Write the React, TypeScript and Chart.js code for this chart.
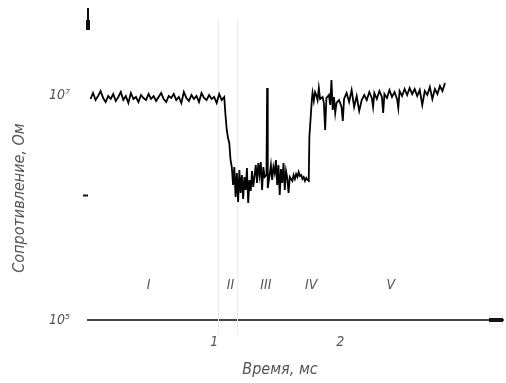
import { useEffect, useRef } from "react";
import { Chart, registerables } from "chart.js";

Chart.register(...registerables);

// Time, ms
const timeMs = [
  0.02, 0.04, 0.06, 0.08, 0.10, 0.12, 0.14, 0.16, 0.18, 0.20,
  0.22, 0.24, 0.26, 0.28, 0.30, 0.32, 0.34, 0.36, 0.38, 0.40,
  0.42, 0.44, 0.46, 0.48, 0.50, 0.52, 0.54, 0.56, 0.58, 0.60,
  0.62, 0.64, 0.66, 0.68, 0.70, 0.72, 0.74, 0.76, 0.78, 0.80,
  0.82, 0.84, 0.86, 0.88, 0.90, 0.92, 0.94, 0.96, 0.98, 1.00,
  1.02, 1.04, 1.06, 1.08,
  1.09, 1.10, 1.11, 1.12, 1.13, 1.14,
  1.15, 1.16, 1.17, 1.18, 1.19, 1.20, 1.21, 1.22, 1.23, 1.24,
  1.25, 1.26, 1.27, 1.28, 1.29, 1.30, 1.31,
  1.33, 1.34, 1.35, 1.36, 1.37, 1.38, 1.39, 1.40,
  1.415, 1.42, 1.425,
  1.44, 1.45, 1.46, 1.47, 1.48, 1.49, 1.50, 1.51, 1.52, 1.53,
  1.54, 1.55, 1.56, 1.57, 1.58, 1.59, 1.60,
  1.62, 1.63, 1.64, 1.65, 1.66, 1.67, 1.68, 1.69, 1.70, 1.71,
  1.72, 1.73, 1.74, 1.75, 1.755, 1.775,
  1.78, 1.79, 1.80, 1.81, 1.82, 1.83, 1.84,
  1.86, 1.87, 1.88, 1.89,
  1.91, 1.92, 1.93, 1.94, 1.95, 1.96, 1.97,
  1.99, 2.01, 2.02, 2.03,
  2.05, 2.07, 2.09, 2.11, 2.13, 2.15, 2.17,
  2.19, 2.21, 2.23, 2.25, 2.26, 2.27, 2.29, 2.31, 2.33, 2.34,
  2.35, 2.37, 2.39, 2.41, 2.43, 2.45, 2.46, 2.47, 2.49, 2.51,
  2.53, 2.55, 2.57, 2.59, 2.61, 2.63, 2.65, 2.67, 2.69, 2.71,
  2.73, 2.75, 2.77, 2.79, 2.81, 2.83,
];

// Resistance, lg(Ohm)
const lgResistance = [
  6.96, 7.02, 6.95, 6.99, 7.04, 6.97, 6.93, 6.99, 6.96, 7.01,
  6.94, 6.98, 7.03, 6.95, 6.99, 6.92, 7.02, 6.96, 6.98, 6.93,
  7.00, 6.97, 6.95, 7.01, 6.96, 6.99, 6.94, 6.98, 7.02, 6.96,
  6.93, 6.99, 6.97, 7.01, 6.95, 6.98, 6.92, 7.03, 6.97, 6.94,
  7.00, 6.96, 6.99, 6.93, 7.02, 6.97, 6.95, 7.00, 6.96, 6.98,
  6.92, 7.01, 6.95, 6.98,
  6.80, 6.65, 6.57, 6.52, 6.35, 6.28,
  6.10, 6.28, 5.98, 6.22, 5.93, 6.25, 6.02, 6.20, 5.96, 6.18,
  6.05, 6.27, 5.92, 6.15, 6.04, 6.24, 6.08,
  6.30, 6.12, 6.32, 6.20, 6.33, 6.05, 6.28, 6.18,
  6.20, 7.07, 6.07,
  6.20, 6.30, 6.15, 6.28, 6.22, 6.35, 6.10, 6.30, 6.00, 6.26,
  6.12, 6.32, 6.05, 6.24, 6.17, 6.02, 6.18,
  6.14, 6.20, 6.16, 6.21, 6.18, 6.23, 6.19, 6.20, 6.16, 6.18,
  6.14, 6.17, 6.15, 6.14, 6.58, 6.96,
  7.02, 6.94, 7.03, 7.00, 6.95, 7.07, 6.96,
  6.98, 6.92, 6.65, 6.97,
  7.00, 6.90, 7.15, 6.85, 6.98, 6.82, 6.92,
  6.95, 6.88, 6.74, 6.96,
  7.02, 6.93, 7.05, 6.88, 6.99, 6.84, 6.95,
  7.00, 6.95, 7.03, 6.97, 6.88, 7.02, 6.96, 7.04, 6.98, 6.82,
  7.01, 6.97, 7.05, 6.98, 7.03, 6.96, 6.87, 7.04, 6.99, 7.06,
  7.00, 7.07, 7.01, 7.06, 6.99, 7.05, 6.90, 7.04, 7.00, 7.08,
  6.96, 7.06, 7.01, 7.09, 7.04, 7.12,
];

const regionNames = ["I", "II", "III", "IV", "V"];
const regionTimes = [0.48, 1.13, 1.41, 1.77, 2.4];
const regionLevel = 5.1;
const markerTimes = [1.03, 1.18];

const yTickValues = [4.75, 6, 7];
const yTickLabels = ["10⁵", "", "10⁷"];
const xTickValues = [1, 2];
const xTickLabels = ["1", "2"];

const yTitle = "Сопротивление, Ом";
const xTitle = "Время, мс";

const FONT = "'DejaVu Sans Condensed', 'Liberation Sans Narrow', 'DejaVu Sans', sans-serif";
const TEXT = "#555";

const decor = {
  id: "decor",
  beforeDatasetsDraw(chart: any) {
    const { ctx, chartArea, scales } = chart;
    const x = scales.x;
    ctx.save();
    ctx.strokeStyle = "#ececec";
    ctx.lineWidth = 1;
    markerTimes.forEach((t) => {
      const px = Math.round(x.getPixelForValue(t)) + 0.5;
      ctx.beginPath();
      ctx.moveTo(px, chartArea.top + 12);
      ctx.lineTo(px, chartArea.bottom + 14);
      ctx.stroke();
    });
    ctx.restore();
  },
  afterDraw(chart: any) {
    const { ctx, chartArea, scales } = chart;
    const x = scales.x;
    const y = scales.y;
    ctx.save();
    ctx.font = `italic 14px ${FONT}`;
    ctx.fillStyle = TEXT;
    ctx.textAlign = "center";
    ctx.textBaseline = "middle";
    regionNames.forEach((n, i) => {
      ctx.fillText(n, x.getPixelForValue(regionTimes[i]), y.getPixelForValue(regionLevel));
    });
    // axis titles
    ctx.font = `italic 16px ${FONT}`;
    ctx.fillText(xTitle, chartArea.left + 192, chartArea.bottom + 50);
    ctx.save();
    ctx.translate(chartArea.left - 68, chartArea.bottom - 122);
    ctx.rotate(-Math.PI / 2);
    ctx.fillText(yTitle, 0, 0);
    ctx.restore();
    // axis arrows
    ctx.fillStyle = "#111";
    const l = chartArea.left;
    const t = chartArea.top;
    ctx.fillRect(l - 1, t, 2, 12);
    ctx.fillRect(l - 2, t + 12, 4, 10);
    const r = chartArea.right;
    const b = chartArea.bottom;
    ctx.fillRect(r - 14, b - 2, 14, 4);
    ctx.restore();
  },
};

export default function App() {
  const ref = useRef<HTMLCanvasElement | null>(null);
  useEffect(() => {
    if (!ref.current) return;
    const chart = new Chart(ref.current, {
      type: "line",
      data: {
        datasets: [
          {
            data: timeMs.map((t, i) => ({ x: t, y: lgResistance[i] })),
            borderColor: "#000",
            borderWidth: 1.8,
            pointRadius: 0,
            tension: 0,
            fill: false,
          },
        ],
      },
      options: {
        animation: false,
        responsive: false,
        layout: { padding: { top: 8, right: 3, left: 0, bottom: 0 } },
        plugins: { legend: { display: false }, tooltip: { enabled: false } },
        scales: {
          x: {
            type: "linear",
            min: 0,
            max: 3.29,
            afterFit: (s: any) => {
              s.height = 63;
              s.paddingLeft = 0;
              s.paddingRight = 0;
            },
            afterBuildTicks: (s: any) => {
              s.ticks = xTickValues.map((v) => ({ value: v }));
            },
            ticks: {
              callback: (v: any) => {
                const i = xTickValues.indexOf(Number(v));
                return i >= 0 ? xTickLabels[i] : "";
              },
              font: { family: FONT, size: 14, style: "italic" },
              color: TEXT,
              padding: 14,
              maxRotation: 0,
            },
            grid: { display: false, drawTicks: false },
            border: { display: true, color: "#444", width: 2 },
          },
          y: {
            type: "linear",
            min: 4.75,
            max: 7.87,
            afterFit: (s: any) => {
              s.width = 88;
              s.paddingTop = 0;
              s.paddingBottom = 0;
            },
            afterBuildTicks: (s: any) => {
              s.ticks = yTickValues.map((v) => ({ value: v }));
            },
            ticks: {
              callback: (v: any) => {
                const i = yTickValues.indexOf(Number(v));
                return i >= 0 ? yTickLabels[i] : "";
              },
              font: { family: FONT, size: 14, style: "italic" },
              color: TEXT,
              padding: 13,
            },
            grid: {
              drawOnChartArea: false,
              drawTicks: true,
              tickLength: 5,
              tickWidth: 2,
              tickColor: (c: any) => (c.tick && c.tick.value === 6 ? "#111" : "rgba(0,0,0,0)"),
            },
            border: { display: false },
          },
        },
      },
      plugins: [decor],
    });
    return () => chart.destroy();
  }, []);
  return (
    <div style={{ position: "fixed", left: 0, top: 0, width: 506, height: 383, background: "#fff" }}>
      <canvas ref={ref} width={506} height={383} />
    </div>
  );
}
